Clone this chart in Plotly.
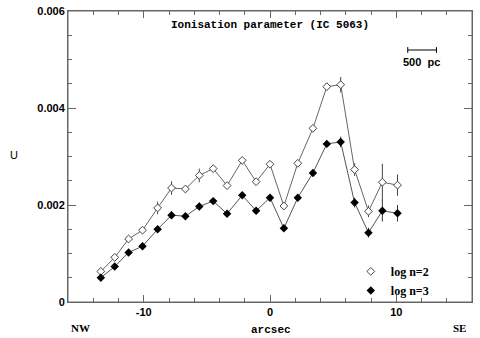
import plotly.graph_objects as go

# offsets along the slit (arcsec) and ionisation parameter U for the two densities
offset = [-13.4, -12.3, -11.2, -10.1, -8.9, -7.8, -6.7, -5.6, -4.5, -3.4, -2.2,
          -1.1, 0.0, 1.1, 2.2, 3.4, 4.5, 5.6, 6.7, 7.8, 8.9, 10.1]
u_n2 = [0.00063, 0.00092, 0.00130, 0.00148, 0.00194, 0.00235, 0.00233, 0.00261,
        0.00275, 0.00240, 0.00292, 0.00248, 0.00284, 0.00198, 0.00286, 0.00358,
        0.00444, 0.00448, 0.00273, 0.00187, 0.00247, 0.00241]
err_n2 = [0.00005, 0.00004, 0.00005, 0.00005, 0.00013, 0.00014, 0.00006, 0.00014,
          0.00007, 0.00005, 0.00004, 0.00004, 0.00004, 0.00004, 0.00004, 0.00005,
          0.00005, 0.00016, 0.00013, 0.00012, 0.00038, 0.00022]
u_n3 = [0.00050, 0.00073, 0.00102, 0.00115, 0.00150, 0.00179, 0.00177, 0.00197,
        0.00208, 0.00182, 0.00220, 0.00188, 0.00215, 0.00152, 0.00215, 0.00266,
        0.00326, 0.00330, 0.00205, 0.00143, 0.00188, 0.00183]
err_n3 = [0.00004, 0.00004, 0.00004, 0.00004, 0.00006, 0.00008, 0.00004, 0.00008,
          0.00005, 0.00004, 0.00004, 0.00004, 0.00004, 0.00004, 0.00004, 0.00004,
          0.00004, 0.00011, 0.00010, 0.00010, 0.00022, 0.00017]

x_ticks = [-10, 0, 10]
x_labels = ["-10", "0", "10"]
y_ticks = [0, 0.002, 0.004, 0.006]
y_labels = ["0", "0.002", "0.004", "0.006"]

AX = "#666666"
bold_sans = dict(family="Liberation Sans", size=11, color="black", weight="bold")
bold_serif = dict(family="Liberation Serif", size=12, color="black", weight="bold")
mono = dict(family="Liberation Mono", size=11, color="black", weight="bold")

fig = go.Figure()

fig.add_trace(go.Scatter(
    x=offset, y=u_n2, mode="lines+markers", showlegend=False,
    line=dict(color="#666666", width=1),
    marker=dict(symbol="diamond", size=6, color="white",
                line=dict(color="#444444", width=1)),
    error_y=dict(type="data", array=err_n2, color="#444444", thickness=1, width=0),
))
fig.add_trace(go.Scatter(
    x=offset, y=u_n3, mode="lines+markers", showlegend=False,
    line=dict(color="#555555", width=1),
    marker=dict(symbol="diamond", size=6.5, color="black", line=dict(width=0)),
    error_y=dict(type="data", array=err_n3, color="#333333", thickness=1, width=0),
))

# legend-only entries (marker without line, as in the original)
fig.add_trace(go.Scatter(
    x=[None], y=[None], mode="markers", name="log n=2",
    marker=dict(symbol="diamond", size=6, color="white",
                line=dict(color="#444444", width=1)),
))
fig.add_trace(go.Scatter(
    x=[None], y=[None], mode="markers", name="log n=3",
    marker=dict(symbol="diamond", size=6.5, color="black"),
))

fig.update_xaxes(
    range=[-16, 16], showgrid=False, zeroline=False,
    showline=True, linecolor=AX, linewidth=1, mirror="allticks",
    ticks="inside", ticklen=7, tickcolor=AX, tickwidth=1,
    tickvals=x_ticks, ticktext=x_labels, tickfont=bold_sans,
    ticklabeloverflow="allow",
    minor=dict(dtick=2, tick0=0, ticks="inside", ticklen=4, tickcolor=AX),
)
fig.update_yaxes(
    range=[0, 0.006], showgrid=False, zeroline=False,
    showline=True, linecolor=AX, linewidth=1, mirror="allticks",
    ticks="inside", ticklen=8, tickcolor=AX, tickwidth=1,
    tickvals=y_ticks, ticktext=y_labels, tickfont=bold_sans,
    ticklabeloverflow="allow",
    minor=dict(dtick=0.0005, tick0=0, ticks="inside", ticklen=4, tickcolor=AX),
)

# frame
fig.add_shape(type="rect", xref="paper", yref="paper", x0=0, x1=1, y0=0, y1=1,
              line=dict(color=AX, width=1), layer="above")

def label(text, x, y, font):
    fig.add_annotation(text=text, xref="paper", yref="paper", x=x, y=y,
                       xanchor="center", yanchor="middle", showarrow=False, font=font)

label("Ionisation parameter (IC 5063)", 0.5, 0.952, mono)
label("U", -0.134, 0.505, dict(family="Liberation Sans", size=11, color="black"))
label("arcsec", 0.502, -0.095, mono)
label("NW", 0.032, -0.09, dict(bold_serif, size=11))
label("SE", 0.968, -0.09, dict(bold_serif, size=11))
label("500  pc", 0.876, 0.826, bold_sans)

# 500 pc scale bar
bar = dict(color="black", width=1)
fig.add_shape(type="line", xref="paper", yref="paper", x0=0.841, x1=0.912,
              y0=0.866, y1=0.866, line=bar)
fig.add_shape(type="line", xref="paper", yref="paper", x0=0.841, x1=0.841,
              y0=0.856, y1=0.876, line=bar)
fig.add_shape(type="line", xref="paper", yref="paper", x0=0.912, x1=0.912,
              y0=0.856, y1=0.876, line=bar)

fig.update_layout(
    width=480, height=338,
    margin=dict(l=68, r=8, t=5, b=36),
    paper_bgcolor="white", plot_bgcolor="white",
    legend=dict(x=0.7, y=0.155, xanchor="left", yanchor="top",
                bgcolor="rgba(0,0,0,0)", font=bold_serif,
                itemwidth=30, tracegroupgap=0),
)

fig.write_html("out.html", config={"displayModeBar": False},
               post_script="document.body.style.margin='0';")
